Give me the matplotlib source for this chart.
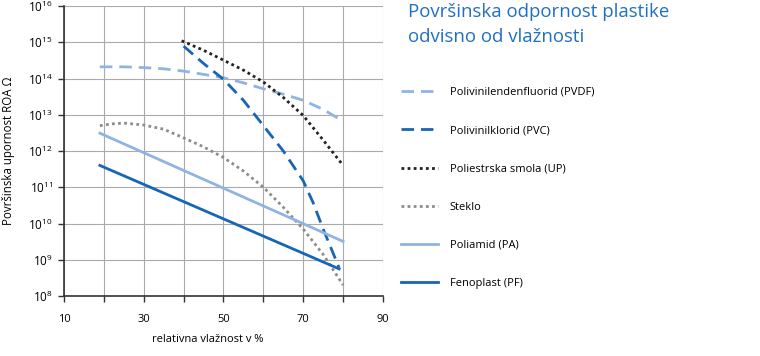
import numpy as np
import matplotlib
matplotlib.use("Agg")
from matplotlib import pyplot as plt

plt.rcParams['font.family'] = ['Open Sans', 'DejaVu Sans']
plt.rcParams['mathtext.fontset'] = 'custom'
plt.rcParams['mathtext.rm'] = 'Open Sans'

# values (x = relative humidity %, y = surface resistance in ohm)
pvdf_x = [19, 25, 30, 35, 40, 45, 50, 55, 60, 65, 70, 75, 80]
pvdf_y = [2.1e14, 2.1e14, 2.0e14, 1.85e14, 1.6e14, 1.3e14, 1.05e14, 7.6e13, 5.2e13, 3.7e13, 2.5e13, 1.4e13, 6.6e12]

pvc_x = [40, 45, 50, 55, 60, 65, 70, 72.5, 75, 79]
pvc_y = [7.8e14, 2.6e14, 9.5e13, 2.5e13, 5e12, 1e12, 1.5e11, 3.7e10, 7e9, 6e8]

up_x = [39.5, 45, 50, 55, 60, 65, 70, 75, 80]
up_y = [1.1e15, 6e14, 3.2e14, 1.7e14, 8e13, 3e13, 9.5e12, 2e12, 4e11]

steklo_x = [19, 22, 25, 30, 35, 40, 45, 50, 55, 60, 65, 70, 75, 80]
steklo_y = [5e12, 5.6e12, 5.9e12, 5.2e12, 4e12, 2.3e12, 1.3e12, 6.6e11, 2.8e11, 1e11, 2.8e10, 7e9, 1.4e9, 2e8]

pa_x = [19, 80]
pa_y = [3.1e12, 3.2e9]

pf_x = [19, 79]
pf_y = [4e11, 5.6e8]

labels = ['Polivinilendenfluorid (PVDF)', 'Polivinilklorid (PVC)', 'Poliestrska smola (UP)',
          'Steklo', 'Poliamid (PA)', 'Fenoplast (PF)']

light = '#8fb4e3'
dark = '#1766b5'

fig = plt.figure(figsize=(7.6, 3.56), dpi=100)
ax = fig.add_axes([64 / 760, 1 - 296 / 356, (383 - 64) / 760, (296 - 6) / 356])

lw = 2.0
l1, = ax.plot(pvdf_x, pvdf_y, color=light, lw=lw, dashes=(4.5, 2.5))
l2, = ax.plot(pvc_x, pvc_y, color=dark, lw=lw, dashes=(4.5, 2.5))
l3, = ax.plot(up_x, up_y, color='#222222', lw=lw, linestyle=(0, (1, 1.2)))
l4, = ax.plot(steklo_x, steklo_y, color='#8c8c8c', lw=lw, linestyle=(0, (1, 1.2)))
l5, = ax.plot(pa_x, pa_y, color=light, lw=lw)
l6, = ax.plot(pf_x, pf_y, color=dark, lw=lw)

ax.set_yscale('log')
ax.set_xlim(10, 90)
ax.set_ylim(1e8, 1e16)
ax.set_xticks(np.arange(10, 91, 10))
ax.set_xticklabels(['10', '', '30', '', '50', '', '70', '', '90'], fontsize=8)
yt = [10.0 ** k for k in range(8, 17)]
ax.set_yticks(yt)
ax.set_yticklabels([r'$\mathregular{10^{%d}}$' % k for k in range(8, 17)], fontsize=8.5)
ax.yaxis.set_minor_locator(matplotlib.ticker.NullLocator())
ax.tick_params(axis='both', direction='out', length=4, width=1, color='#333333', pad=4)
ax.tick_params(axis='x', pad=9)
ax.grid(True, color='#aaaaaa', lw=0.8)
ax.set_axisbelow(True)
for s in ['top', 'right']:
    ax.spines[s].set_visible(False)
for s in ['left', 'bottom']:
    ax.spines[s].set_color('#333333')
    ax.spines[s].set_linewidth(1.2)

ax.set_xlabel('relativna vlažnost v %', fontsize=8)
ax.xaxis.set_label_coords(0.45, -0.13)
ax.set_ylabel('Površinska upornost ROA Ω', fontsize=8.3)
ax.yaxis.set_label_coords(-0.155, 0.5)

fig.text(408 / 760, 1 - 3 / 356, 'Površinska odpornost plastike\nodvisno od vlažnosti',
         color='#1f6fc4', fontsize=13.4, va='top', ha='left', linespacing=1.5)

fig.legend([l1, l2, l3, l4, l5, l6], labels, loc='upper left',
           bbox_to_anchor=(401 / 760, 1 - 87 / 356), frameon=False, fontsize=8,
           handlelength=3.3, handletextpad=1.1, labelspacing=2.45, borderpad=0, borderaxespad=0)

plt.savefig('out.png', dpi=100)
